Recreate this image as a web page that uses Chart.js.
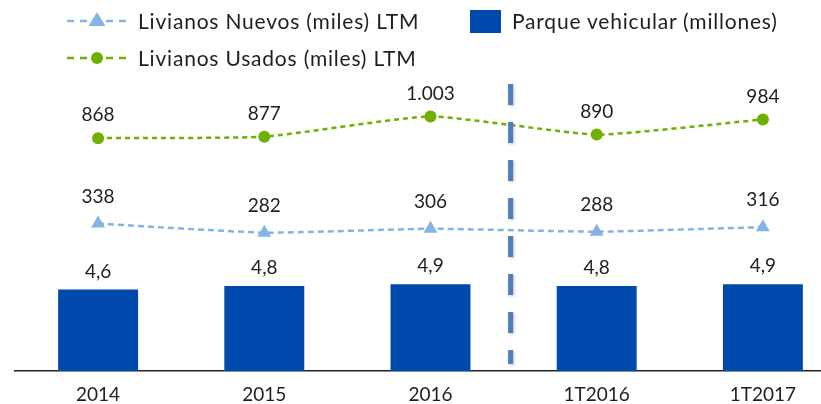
<!DOCTYPE html>
<html>
<head>
<meta charset="utf-8">
<script src="https://cdn.jsdelivr.net/npm/chart.js@4.4.1/dist/chart.umd.min.js"></script>
<style>
  html, body { margin: 0; padding: 0; background: #ffffff; overflow: hidden; }
  #wrap { position: relative; width: 821px; height: 404px; overflow: hidden; }
  #cv { position: absolute; left: 0; top: 0; }
  .leg { position: absolute; font-family: "Lato", sans-serif; font-size: 21px; color: #1e1e1e; white-space: nowrap; line-height: 24px; }
  .leg svg { position: absolute; }
</style>
</head>
<body>
<div id="wrap">
  <canvas id="cv" width="846" height="419" style="width:846px;height:419px"></canvas>
  <div class="leg" style="left:67px;top:9px;">
    <svg width="62" height="24" style="left:0;top:0" viewBox="0 0 62 24">
      <line x1="0" y1="12" x2="62" y2="12" stroke="#84B4E4" stroke-width="2.5" stroke-dasharray="7,6"/>
      <polygon points="30,3 38.5,17 21.5,17" fill="#84B4E4"/>
    </svg>
    <span style="position:absolute;left:71px;top:0;letter-spacing:0.8px">Livianos Nuevos (miles) LTM</span>
  </div>
  <div class="leg" style="left:67px;top:46px;">
    <svg width="62" height="24" style="left:0;top:0" viewBox="0 0 62 24">
      <line x1="0" y1="12" x2="62" y2="12" stroke="#6FAF00" stroke-width="2.5" stroke-dasharray="7,6"/>
      <circle cx="30" cy="12" r="6" fill="#6FAF00"/>
    </svg>
    <span style="position:absolute;left:71px;top:0;letter-spacing:0.8px">Livianos Usados (miles) LTM</span>
  </div>
  <div class="leg" style="left:470px;top:10px;">
    <div style="position:absolute;left:0;top:0;width:31px;height:23px;background:#004AAD"></div>
    <span style="position:absolute;left:42px;top:-1px;letter-spacing:0.8px">Parque vehicular (millones)</span>
  </div>
</div>
<script>
const categories = ["2014", "2015", "2016", "1T2016", "1T2017"];
const parqueVehicular = [4.6, 4.8, 4.9, 4.8, 4.9];
const livianosNuevos = [338, 282, 306, 288, 316];
const livianosUsados = [868, 877, 1003, 890, 984];

function fmtThousands(v) {
  return String(v).replace(/\B(?=(\d{3})+(?!\d))/g, ".");
}
function fmtDecimal(v) {
  return v.toFixed(1).replace(".", ",");
}

const labelFont = '19px "Lato", sans-serif';

const overlayPlugin = {
  id: "overlay",
  afterDatasetsDraw(chart) {
    const ctx = chart.ctx;
    const x = chart.scales.x;
    // vertical dashed separator between 2016 and 1T2016
    const sx = x.getPixelForValue(2.5) - 3;
    ctx.save();
    ctx.strokeStyle = "#4F7FBA";
    ctx.lineWidth = 5;
    ctx.setLineDash([21, 17]);
    ctx.shadowColor = "rgba(0,0,0,0.25)";
    ctx.shadowBlur = 3;
    ctx.shadowOffsetX = 1;
    ctx.shadowOffsetY = 1;
    ctx.beginPath();
    ctx.moveTo(sx, 84);
    ctx.lineTo(sx, 364);
    ctx.stroke();
    ctx.restore();

    // data labels
    ctx.save();
    ctx.font = labelFont;
    ctx.fillStyle = "#1e1e1e";
    ctx.textAlign = "center";
    ctx.textBaseline = "middle";
    chart.data.datasets.forEach((ds, i) => {
      const meta = chart.getDatasetMeta(i);
      meta.data.forEach((el, j) => {
        const v = ds.data[j];
        let txt, dy;
        if (ds.type === "bar") { txt = fmtDecimal(v); dy = 18; }
        else if (i === 2) { txt = fmtThousands(v); dy = 23; }
        else { txt = fmtThousands(v); dy = 27; }
        ctx.fillText(txt, el.x, el.y - dy);
      });
    });
    ctx.restore();
  }
};

new Chart(document.getElementById("cv"), {
  data: {
    labels: categories,
    datasets: [
      {
        type: "bar",
        label: "Parque vehicular (millones)",
        data: parqueVehicular,
        backgroundColor: "#004AAD",
        yAxisID: "yBar",
        categoryPercentage: 1,
        barPercentage: 0.481,
        order: 3
      },
      {
        type: "line",
        label: "Livianos Nuevos (miles) LTM",
        data: livianosNuevos,
        borderColor: "#84B4E4",
        backgroundColor: "#84B4E4",
        borderWidth: 2.5,
        borderDash: [6, 4],
        pointStyle: "triangle",
        pointRadius: 8,
        pointBorderWidth: 0,
        tension: 0.15,
        yAxisID: "yLine",
        order: 2
      },
      {
        type: "line",
        label: "Livianos Usados (miles) LTM",
        data: livianosUsados,
        borderColor: "#6FAF00",
        backgroundColor: "#6FAF00",
        borderWidth: 2.5,
        borderDash: [5, 4],
        pointStyle: "circle",
        pointRadius: 6,
        pointBorderWidth: 0,
        tension: 0.15,
        yAxisID: "yLine",
        order: 1
      }
    ]
  },
  options: {
    responsive: false,
    animation: false,
    events: [],
    layout: { autoPadding: false, padding: { left: 15, right: 0, top: 80, bottom: 1 } },
    plugins: {
      legend: { display: false },
      tooltip: { enabled: false }
    },
    scales: {
      x: {
        offset: true,
        grid: { display: false, drawTicks: false },
        border: { display: true, color: "#222222", width: 1.5 },
        ticks: {
          color: "#1e1e1e",
          font: { family: "Lato", size: 19 },
          padding: 12,
          maxRotation: 0
        }
      },
      yBar: {
        display: false,
        min: 0,
        max: 16.42
      },
      yLine: {
        display: false,
        min: -577.5,
        max: 1228.75
      }
    }
  },
  plugins: [overlayPlugin]
});
</script>
</body>
</html>
